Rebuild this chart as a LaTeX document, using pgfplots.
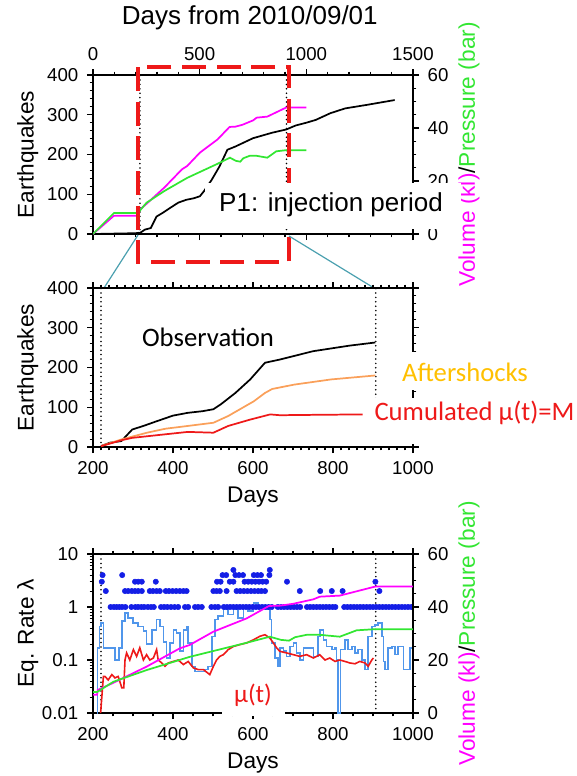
\documentclass[border=0pt]{standalone}
\usepackage{pgfplots}
\pgfplotsset{compat=1.18}
\usepackage{pgfplotstable}
\usepackage{fontspec}
\setmainfont{Liberation Sans}
\newfontfamily\calibri{Carlito}
\definecolor{mag}{RGB}{255,0,255}
\definecolor{grn}{RGB}{50,230,50}
\definecolor{org}{RGB}{250,160,90}
\definecolor{orgtxt}{RGB}{255,192,0}
\definecolor{red1}{RGB}{238,25,25}
\definecolor{dotblue}{RGB}{20,30,230}
\definecolor{lblue}{RGB}{80,150,235}
\definecolor{teal1}{RGB}{75,160,175}

\pgfplotstableread{
day vol
0 0
98 6.9
210 6.9
212 8.7
251 11.4
334 17.5
417 24.4
442 25.7
501 30.7
584 35.7
640 40.4
667 40.5
700 41.2
751 42.9
767 43.9
817 44.3
905 47.7
1000 47.7
}\voltab

\pgfplotstableread{
day pres
0 0
98 7.9
210 7.9
251 11.8
334 16.2
442 21.2
584 26.5
642 28.8
670 27.6
690 27.3
705 28.6
734 29.5
767 29.5
817 28.8
859 31.2
901 31.6
1000 31.6
}\prestab

\pgfplotstableread{
day n
0 0
100 1
200 2
215 3
220 2.5
243 11
271 15
298 44
326 53
354 63
400 79
437 86
473 90
501 95
519 107
556 136
593 170
630 212
667 220
750 241
841 255
906 263
950 273
1000 280
1044 287
1113 304
1182 316
1285 325
1414 337
}\obstab

\pgfplotsset{
  gmt/.style={
    scale only axis, width=240pt, height=119.25pt,
    axis line style={line width=1.7pt},
    tick align=outside,
    major tick length=4.5pt, minor tick length=2.5pt,
    every tick/.append style={black, line width=0.8pt},
    tick label style={font=\fontsize{14}{14}\selectfont},
    xticklabel shift=2.5pt, yticklabel shift=3pt,
    label style={font=\fontsize{17}{17}\selectfont},
    /pgf/number format/assume math mode=true,
    /pgf/number format/1000 sep={},
  },
  dotline/.style={black, line width=1.3pt, dash pattern=on 0pt off 3.3pt, line cap=round},
}

\begin{document}
\begin{tikzpicture}
\path[use as bounding box] (0pt,0pt) rectangle (432pt,-582pt);

% ---------------- Panel 1 ----------------
\begin{axis}[gmt, at={(69.75pt,-175.5pt)}, anchor=south west,
  xmin=0, xmax=1500, ymin=0, ymax=400,
  xtick={0,500,1000,1500}, minor x tick num=4,
  xticklabel pos=right, xtick pos=both,
  ytick={0,100,200,300,400}, minor y tick num=4, ytick pos=left,
  xlabel={Days from 2010/09/01},
  xlabel style={at={(axis description cs:0.49,1.36)}, anchor=center, font=\fontsize{19.5}{19.5}\selectfont},
  ylabel={Earthquakes},
  ylabel style={at={(axis description cs:-0.204,0.5)}, anchor=center},
]
\addplot[dotline] coordinates {(220,0) (220,400)};
\addplot[dotline] coordinates {(907,0) (907,400)};
\addplot[black, line width=1.3pt] table[x=day, y=n] {\obstab};
\end{axis}
\begin{axis}[gmt, at={(69.75pt,-175.5pt)}, anchor=south west,
  xmin=0, xmax=1500, ymin=0, ymax=60,
  axis x line=none, axis y line*=right,
  ytick={0,20,40,60}, minor y tick num=3,
  ylabel={\textcolor{mag}{Volume (kl)}/\textcolor{grn}{Pressure (bar)}},
  ylabel style={at={(axis description cs:1.175,0.5)}, anchor=center},
]
\addplot[mag, line width=1.3pt] table[x=day, y=vol] {\voltab};
\addplot[grn, line width=1.3pt] table[x=day, y=pres] {\prestab};
\end{axis}

\begin{scope}[x=0.75pt, y=-0.75pt]
\draw[red1, line width=3pt, dash pattern=on 18pt off 8pt] (138,67) rectangle (289,262);
\fill[white] (205,183) rectangle (461,229);
\node[font=\fontsize{19.5}{19.5}\selectfont] at (331,205) {P1: injection period};
\draw[teal1, line width=0.9pt] (138,235) -- (104,288);
\draw[teal1, line width=0.9pt] (289,236) -- (374,288);
\end{scope}

% ---------------- Panel 2 ----------------
\begin{axis}[gmt, at={(69.75pt,-335.25pt)}, anchor=south west,
  xmin=200, xmax=1000, ymin=0, ymax=400,
  xtick={200,400,600,800,1000}, minor x tick num=9, xtick pos=both,
  ytick={0,100,200,300,400}, minor y tick num=4, ytick pos=both,
  xlabel={Days},
  xlabel style={at={(axis description cs:0.5,-0.314)}, anchor=center},
  ylabel={Earthquakes},
  ylabel style={at={(axis description cs:-0.204,0.5)}, anchor=center},
]
\addplot[dotline] coordinates {(220,0) (220,400)};
\addplot[dotline] coordinates {(907,0) (907,400)};
\addplot[black, line width=1.3pt] coordinates {
(220,2.5) (243,11) (271,15) (298,44) (326,53) (354,63) (400,79) (437,86)
(473,90) (501,95) (519,107) (556,136) (593,170) (630,212) (667,220)
(750,241) (841,255) (906,263)};
\addplot[org, line width=1.3pt] coordinates {
(220,2.5) (271,19) (335,36) (381,46) (437,53) (501,61) (538,78) (602,115)
(630,136) (648,146) (703,157) (795,170) (906,180)};
\addplot[red1, line width=1.3pt] coordinates {
(220,2) (271,17) (298,23) (381,32) (437,38) (501,36) (538,53) (593,69)
(643,82) (667,80) (760,81) (874,82)};
\end{axis}

\begin{scope}[x=0.75pt, y=-0.75pt]
\node[font=\calibri\fontsize{20}{20}\selectfont] at (208,337) {Observation};
\fill[white] (392,352) rectangle (540,390);
\node[font=\calibri\fontsize{20}{20}\selectfont, text=orgtxt] at (465,372) {Aftershocks};
\fill[white] (372,398) rectangle (576,444);
\node[font=\calibri\fontsize{20}{20}\selectfont, text=red1] at (474.5,413) {Cumulated μ(t)=M};
\end{scope}

% ---------------- Panel 3 ----------------
\begin{axis}[gmt, at={(69.75pt,-534.75pt)}, anchor=south west,
  xmin=200, xmax=1000, ymode=log, ymin=0.01, ymax=10,
  xtick={200,400,600,800,1000}, minor x tick num=3, xtick pos=both,
  ytick={0.01,0.1,1,10}, yticklabels={0.01,0.1,1,10}, ytick pos=left,
  xlabel={Days},
  xlabel style={at={(axis description cs:0.5,-0.314)}, anchor=center},
  ylabel={Eq. Rate λ},
  ylabel style={at={(axis description cs:-0.204,0.5)}, anchor=center},
]
\addplot[dotline] coordinates {(220,0.01) (220,10)};
\addplot[dotline] coordinates {(907,0.01) (907,10)};
\addplot[lblue, line width=1.2pt, const plot] coordinates {
(209,0.01) (211,0.17) (216,0.43) (220,0.5) (226,0.17) (255,0.1) (265,0.17)
(272,0.54) (280,0.77) (288,0.62) (300,0.5) (313,0.43) (326,0.35) (334,0.2)
(347,0.37) (359,0.58) (367,0.43) (376,0.22) (384,0.11) (392,0.21) (401,0.37)
(409,0.32) (417,0.146) (426,0.37) (434,0.43) (438,0.21) (447,0.076) (455,0.061)
(480,0.066) (488,0.076) (497,0.28) (505,0.58) (513,0.67) (526,0.89) (538,0.72)
(551,0.89) (563,0.62) (576,1.03) (588,0.83) (601,1.19) (613,1.03) (634,0.89)
(642,0.58) (646,0.21) (655,0.109) (663,0.076) (667,0.17) (676,0.146) (684,0.117)
(692,0.18) (701,0.21) (709,0.136) (717,0.10) (726,0.17) (751,0.117) (763,0.28)
(768,0.37) (776,0.24) (784,0.18) (797,0.157) (805,0.17) (809,0.10) (813,0.01)
(819,0.157) (830,0.24) (838,0.157) (847,0.18) (855,0.136) (863,0.157) (872,0.10)
(880,0.066) (888,0.28) (897,0.43) (905,0.46) (913,0.5) (922,0.28) (926,0.094)
(930,0.066) (938,0.17) (947,0.18) (955,0.126) (963,0.18) (976,0.066) (992,0.17)
(1000,0.17)};
\addplot[red1, line width=1.2pt] coordinates {
(219,0.01) (226,0.049) (230,0.049) (238,0.042) (247,0.053) (255,0.046) (263,0.049)
(272,0.030) (277,0.030) (280,0.10) (284,0.136) (292,0.10) (301,0.157) (309,0.117)
(317,0.17) (326,0.10) (334,0.126) (342,0.10) (351,0.109) (359,0.157) (363,0.10)
(372,0.088) (380,0.076) (388,0.088) (401,0.094) (413,0.10) (426,0.082) (438,0.094)
(451,0.071) (463,0.066) (476,0.066) (492,0.053) (501,0.076) (509,0.10) (517,0.117)
(526,0.126) (538,0.157) (551,0.18) (567,0.195) (584,0.21) (601,0.24) (617,0.28)
(630,0.30) (642,0.26) (651,0.21) (659,0.17) (667,0.146) (684,0.136) (701,0.126)
(717,0.117) (734,0.126) (751,0.109) (767,0.126) (780,0.10) (792,0.109) (805,0.094)
(817,0.10) (830,0.094) (842,0.088) (855,0.085) (867,0.094) (880,0.088) (888,0.076)
(897,0.10) (901,0.109)};
\addplot[only marks, mark=*, mark size=2pt, dotblue, mark options={draw=dotblue, fill=dotblue}] coordinates {
(244,1) (252,1) (259,1) (266,1) (273,1) (281,1) (296,1) (306,1) (313,1) (321,1)
(328,1) (337,1) (345,1) (352,1) (370,1) (378,1) (386,1) (395,1) (404,1) (413,1)
(430,1) (438,1) (455,1) (463,1) (472,1) (496,1) (505,1) (513,1) (527,1) (535,1)
(543,1) (551,1) (559,1) (567,1) (575,1) (583,1) (591,1) (599,1) (607,1) (615,1)
(623,1) (631,1) (639,1) (647,1) (662,1) (670,1) (678,1) (686,1) (694,1) (702,1)
(710,1) (718,1) (735,1) (743,1) (751,1) (759,1) (767,1) (775,1) (783,1) (791,1)
(799,1) (806,1) (828,1) (836,1) (844,1) (852,1) (860,1) (868,1) (876,1) (884,1)
(892,1) (900,1) (908,1) (916,1) (924,1) (932,1) (940,1) (948,1) (956,1) (964,1)
(972,1) (980,1) (988,1) (996,1)
(232,2) (280,2) (288,2) (297,2) (305,2) (313,2) (322,2) (342,2) (350,2) (359,2)
(367,2) (382,2) (390,2) (399,2) (408,2) (417,2) (426,2) (434,2) (501,2) (509,2)
(517,2) (534,2) (559,2) (568,2) (577,2) (586,2) (595,2) (604,2) (613,2) (621,2)
(630,2) (717,2) (768,2) (797,2) (824,2) (916,2)
(222,3) (305,3) (313,3) (322,3) (357,3) (510,3) (519,3) (542,3) (551,3) (579,3)
(588,3) (597,3) (606,3) (615,3) (624,3) (633,3) (685,3) (906,3)
(224,4) (273,4) (524,4) (533,4) (556,4) (565,4) (575,4) (602,4) (611,4) (620,4) (641,4)
(551,5) (642,5)};
\end{axis}
\begin{axis}[gmt, at={(69.75pt,-534.75pt)}, anchor=south west,
  xmin=200, xmax=1000, ymin=0, ymax=60,
  axis x line=none, axis y line*=right,
  ytick={0,20,40,60}, minor y tick num=3,
  ylabel={\textcolor{mag}{Volume (kl)}/\textcolor{grn}{Pressure (bar)}},
  ylabel style={at={(axis description cs:1.175,0.5)}, anchor=center},
]
\addplot[mag, line width=1.3pt] table[x=day, y=vol] {\voltab};
\addplot[grn, line width=1.3pt] table[x=day, y=pres] {\prestab};
\end{axis}

\begin{scope}[x=0.75pt, y=-0.75pt]
\fill[white] (222,682) rectangle (285,716);
\node[font=\calibri\fontsize{19}{19}\selectfont, text=red1] at (253,695) {μ(t)};
\end{scope}
\end{tikzpicture}
\end{document}
